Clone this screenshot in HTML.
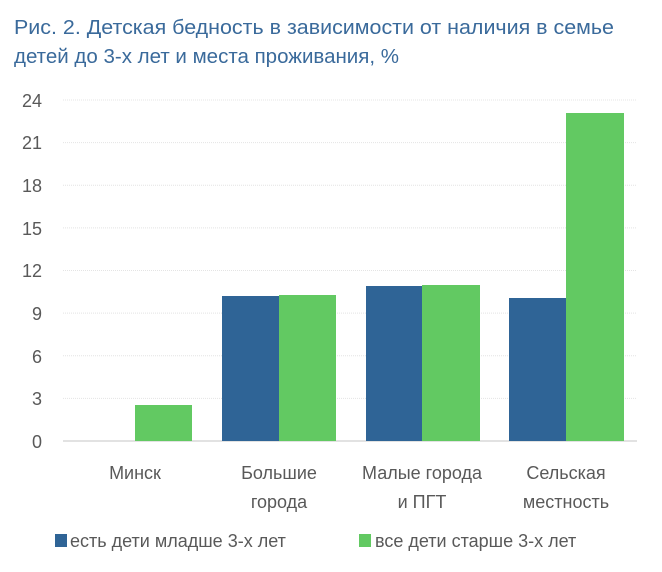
<!DOCTYPE html>
<html><head><meta charset="utf-8"><style>
body{margin:0;background:#fff;width:662px;height:567px;overflow:hidden;font-family:"Liberation Sans",sans-serif}
</style></head><body>
<svg width="662" height="567" xmlns="http://www.w3.org/2000/svg" font-family="Liberation Sans, DejaVu Sans, sans-serif">
<text x="14" y="34" font-size="20" fill="#3a6a9b" textLength="600" lengthAdjust="spacingAndGlyphs">Рис. 2. Детская бедность в зависимости от наличия в семье</text>
<text x="14" y="63" font-size="20" fill="#3a6a9b" textLength="385" lengthAdjust="spacingAndGlyphs">детей до 3-х лет и места проживания, %</text>
<g stroke="#e4e4e4" stroke-width="1" stroke-dasharray="1,1">
<line x1="63" x2="637" y1="100" y2="100"/><line x1="63" x2="637" y1="142.6" y2="142.6"/>
<line x1="63" x2="637" y1="185.3" y2="185.3"/><line x1="63" x2="637" y1="227.9" y2="227.9"/>
<line x1="63" x2="637" y1="270.5" y2="270.5"/><line x1="63" x2="637" y1="313.1" y2="313.1"/>
<line x1="63" x2="637" y1="355.8" y2="355.8"/><line x1="63" x2="637" y1="398.4" y2="398.4"/>
</g>
<line x1="63" x2="637" y1="441" y2="441" stroke="#d9d9d9" stroke-width="1.5"/>
<g font-size="18" fill="#595959" text-anchor="end">
<text x="42" y="107">24</text><text x="42" y="149">21</text><text x="42" y="192">18</text>
<text x="42" y="235">15</text><text x="42" y="277">12</text><text x="42" y="320">9</text>
<text x="42" y="363">6</text><text x="42" y="405">3</text><text x="42" y="448">0</text>
</g>
<g fill="#2f6496">
<rect x="222" y="296" width="57" height="145"/>
<rect x="366" y="286" width="56" height="155"/>
<rect x="509" y="298" width="57" height="143"/>
</g>
<g fill="#62c962">
<rect x="135" y="405" width="57" height="36"/>
<rect x="279" y="295" width="57" height="146"/>
<rect x="422" y="285" width="58" height="156"/>
<rect x="566" y="113" width="58" height="328"/>
</g>
<g font-size="18" fill="#595959" text-anchor="middle">
<text x="135" y="479">Минск</text>
<text x="279" y="479">Большие</text><text x="279" y="508">города</text>
<text x="422" y="479">Малые города</text><text x="422" y="508">и ПГТ</text>
<text x="566" y="479">Сельская</text><text x="566" y="508">местность</text>
</g>
<rect x="55" y="534" width="12" height="13" fill="#2f6496"/>
<text x="70" y="547" font-size="18" fill="#595959">есть дети младше 3-х лет</text>
<rect x="359" y="534" width="12" height="13" fill="#62c962"/>
<text x="375" y="547" font-size="18" fill="#595959">все дети старше 3-х лет</text>
</svg>
</body></html>
